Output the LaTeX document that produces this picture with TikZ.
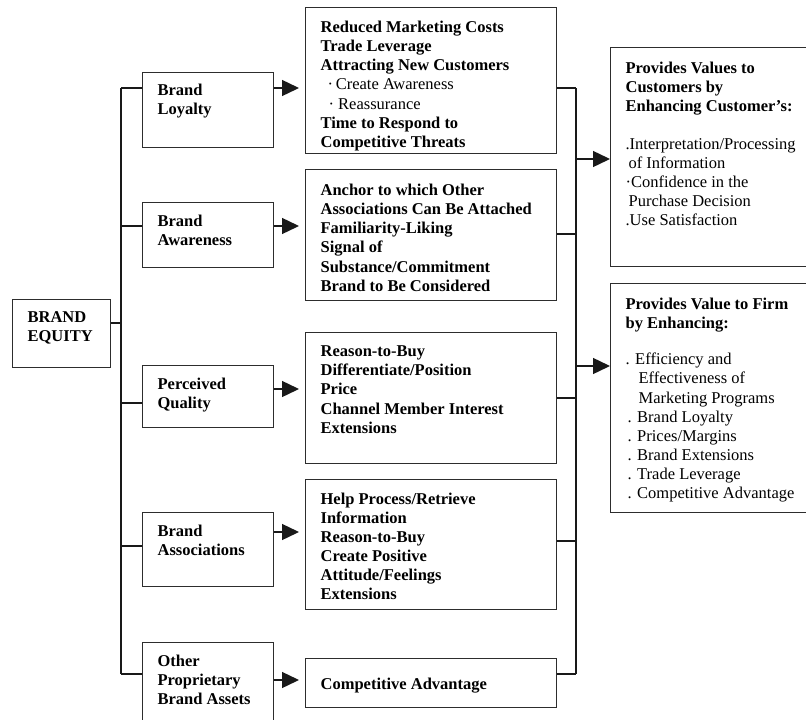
\documentclass[tikz,border=0pt]{standalone}
\usepackage{fontspec}
\setmainfont{Liberation Serif}
\usetikzlibrary{arrows.meta}
\definecolor{boxline}{RGB}{45, 45, 45}
\definecolor{linkline}{RGB}{25, 25, 25}
\newcommand{\diafont}{\fontsize{16.5}{19.1}\selectfont}
\newcommand{\boxtext}[4]{\parbox[c][#1][t]{#2}{\raggedright\vspace*{#3}#4}}

\begin{document}
\begin{tikzpicture}[x=1pt, y=-1pt,
    itembox/.style={draw=boxline, line width=1.2pt, anchor=north west, inner xsep=15pt, inner ysep=0pt, font=\diafont\bfseries},
    valuebox/.style={itembox, font=\diafont},
    link/.style={draw=linkline, line width=1.4pt},
    arrowlink/.style={link, -{Triangle[length=17pt,width=16pt]}}]
    \useasboundingbox (0,0) rectangle (806,720);
    \clip (0,0) rectangle (806,720);

    % brand equity and its five assets
    \node[itembox] (equity) at (12,299) {\boxtext{68pt}{68pt}{12.3pt}{BRAND\\EQUITY}};
    \node[itembox] (loyalty) at (142,72) {\boxtext{75pt}{101pt}{11.3pt}{Brand\\Loyalty}};
    \node[itembox] (awareness) at (142,202) {\boxtext{65pt}{101pt}{12.3pt}{Brand\\Awareness}};
    \node[itembox] (quality) at (142,365) {\boxtext{62pt}{101pt}{12pt}{Perceived\\Quality}};
    \node[itembox] (assoc) at (142,512) {\boxtext{74pt}{101pt}{12pt}{Brand\\Associations}};
    \node[itembox] (other) at (142,642) {\boxtext{85pt}{101pt}{12.6pt}{Other\\Proprietary\\Brand Assets}};

    % what each asset gives
    \node[itembox] (mone) at (305,7) {\boxtext{146pt}{221pt}{13.6pt}{Reduced Marketing Costs\\
        Trade Leverage\\
        Attracting New Customers\\
        {\mdseries\hspace*{7pt}·\,Create Awareness}\\
        {\mdseries\hspace*{8pt}·\ Reassurance}\\
        Time to Respond to\\
        Competitive Threats}};
    \node[itembox] (mtwo) at (305,169) {\boxtext{131pt}{221pt}{14.6pt}{Anchor to which Other\\
        Associations Can Be Attached\\
        Familiarity-Liking\\
        Signal of\\
        Substance/Commitment\\
        Brand to Be Considered}};
    \node[itembox] (mthree) at (305,332) {\boxtext{131pt}{221pt}{13.3pt}{Reason-to-Buy\\
        Differentiate/Position\\
        Price\\
        Channel Member Interest\\
        Extensions}};
    \node[itembox] (mfour) at (305,479) {\boxtext{130pt}{221pt}{13pt}{Help Process/Retrieve\\
        Information\\
        Reason-to-Buy\\
        Create Positive\\
        Attitude/Feelings\\
        Extensions}};
    \node[itembox] (mfive) at (305,658) {\boxtext{49pt}{221pt}{19.6pt}{Competitive Advantage}};

    % values provided
    \node[valuebox] (rone) at (610,47) {\boxtext{219pt}{180pt}{14.6pt}{{\bfseries Provides Values to\\
        Customers by\\
        Enhancing Customer's:}\\[18.5pt]
        .Interpretation/Processing\\
        \hspace*{3pt}of Information\\
        ·Confidence in the\\
        \hspace*{3pt}Purchase Decision\\
        .Use Satisfaction}};
    \node[valuebox] (rtwo) at (610,283) {\boxtext{229pt}{180pt}{14.6pt}{{\bfseries Provides Value to Firm\\
        by Enhancing:}\\[17pt]
        . Efficiency and\\
        \hspace*{13pt}Effectiveness of\\
        \hspace*{13pt}Marketing Programs\\
        \hspace*{2pt}. Brand Loyalty\\
        \hspace*{2pt}. Prices/Margins\\
        \hspace*{2pt}. Brand Extensions\\
        \hspace*{2pt}. Trade Leverage\\
        \hspace*{2pt}. Competitive Advantage}};

    % trunk on the left
    \coordinate (ttop) at (121,88);
    \coordinate (tbot) at (121,674);
    \draw[link] (ttop) -- (tbot);
    \draw[link] (equity.east |- 0,323) -- (ttop |- 0,323);
    \foreach \n/\y in {loyalty/88, awareness/226, quality/403, assoc/546, other/674}
        \draw[link] (ttop |- 0,\y) -- (\n.west |- 0,\y);

    % asset to benefit
    \foreach \a/\b/\y in {loyalty/mone/88, awareness/mtwo/226, quality/mthree/389, assoc/mfour/532, other/mfive/680}
        \draw[arrowlink, shorten >=6pt] (\a.east |- 0,\y) -- (\b.west |- 0,\y);

    % bar on the right
    \coordinate (btop) at (576,88);
    \coordinate (bbot) at (576,674);
    \draw[link] (btop) -- (bbot);
    \foreach \n/\y in {mone/88, mtwo/234, mthree/398, mfour/541, mfive/674}
        \draw[link] (\n.east |- 0,\y) -- (btop |- 0,\y);
    \draw[arrowlink] (btop |- 0,159) -- (rone.west |- 0,159);
    \draw[arrowlink] (btop |- 0,366) -- (rtwo.west |- 0,366);
\end{tikzpicture}
\end{document}
